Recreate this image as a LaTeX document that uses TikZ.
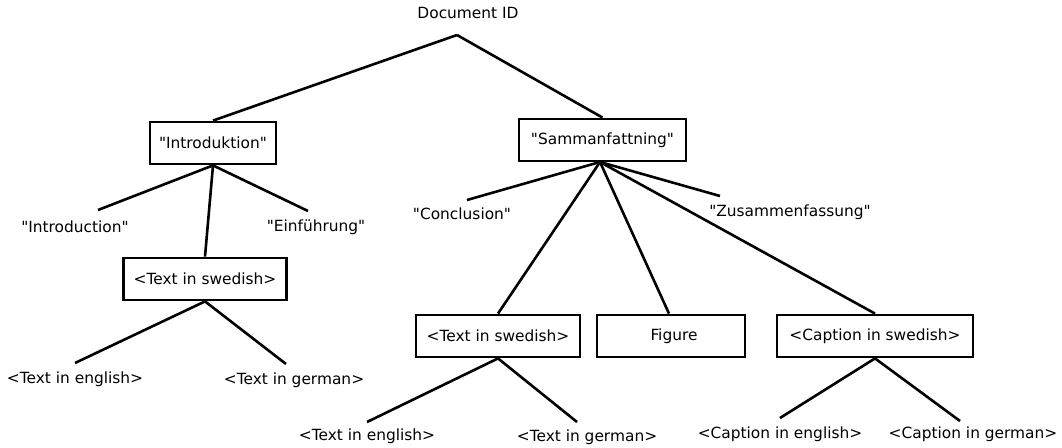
\documentclass[tikz,border=0pt]{standalone}
\usepackage{fontspec}
\setmainfont{DejaVu Sans}
\newcommand{\sq}{\textquotedbl}
\begin{document}
\begin{tikzpicture}[x=1pt,y=-1pt,
  every node/.style={font=\fontsize{15.4}{18}\selectfont, inner sep=0pt},
  box/.style={draw, line width=2.8pt, minimum height=42pt},
  leaf/.style={},
  edge/.style={line width=2.6pt}]
\useasboundingbox (0,0) rectangle (1062,447);

% root
\node[leaf] (root) at (468,13) {Document ID};
\coordinate (rootjoin) at (457,35);

% left branch
\node[box, minimum width=126pt] (intro) at (213,143) {\sq Introduktion\sq};
\node[leaf] (introEn) at (75,227) {\sq Introduction\sq};
\node[leaf] (introDe) at (316,227) {\sq Einführung\sq};
\coordinate (introEnEnd) at (98,210);
\coordinate (introDeEnd) at (308,211);
\node[box, minimum width=163pt] (txtA) at (205,279) {<Text in swedish>};
\node[leaf] (txtAen) at (75,379) {<Text in english>};
\node[leaf] (txtAde) at (294,380) {<Text in german>};
\coordinate (txtAenEnd) at (75,363);
\coordinate (txtAdeEnd) at (286,364);

% right branch
\node[box, minimum width=167pt] (summ) at (602.5,140) {\sq Sammanfattning\sq};
\node[leaf] (summEn) at (462,214) {\sq Conclusion\sq};
\node[leaf] (summDe) at (790,212) {\sq Zusammenfassung\sq};
\coordinate (summEnEnd) at (467,200);
\coordinate (summDeEnd) at (720,196);
\coordinate (summJoin) at (600,162);
\node[box, minimum width=164pt] (txtB) at (498,336) {<Text in swedish>};
\node[box, minimum width=148pt] (fig) at (671,336) {\hspace{6pt}Figure};
\node[box, minimum width=196pt] (cap) at (875,336) {<Caption in swedish>};
\node[leaf] (txtBen) at (367,436) {<Text in english>};
\node[leaf] (txtBde) at (587,437) {<Text in german>};
\coordinate (txtBenEnd) at (367,422);
\coordinate (txtBdeEnd) at (577,422);
\node[leaf] (capEn) at (780,434) {<Caption in english>};
\node[leaf] (capDe) at (973,434) {<Caption in german>};
\coordinate (capEnEnd) at (780,418);
\coordinate (capDeEnd) at (960,421);

% connectors
\draw[edge] (rootjoin) -- (intro.north);
\draw[edge] (rootjoin) -- (summ.north);

\draw[edge] (intro.south) -- (introEnEnd);
\draw[edge] (intro.south) -- (introDeEnd);
\draw[edge] (intro.south) -- (txtA.north);
\draw[edge] (txtA.south) -- (txtAenEnd);
\draw[edge] (txtA.south) -- (txtAdeEnd);

\draw[edge] (summJoin) -- (summEnEnd);
\draw[edge] (summJoin) -- (summDeEnd);
\draw[edge] (summJoin) -- (txtB.north);
\draw[edge] (summJoin) -- ([xshift=-2pt]fig.north);
\draw[edge] (summJoin) -- (cap.north);
\draw[edge] (txtB.south) -- (txtBenEnd);
\draw[edge] (txtB.south) -- (txtBdeEnd);
\draw[edge] (cap.south) -- (capEnEnd);
\draw[edge] (cap.south) -- (capDeEnd);
\end{tikzpicture}
\end{document}
